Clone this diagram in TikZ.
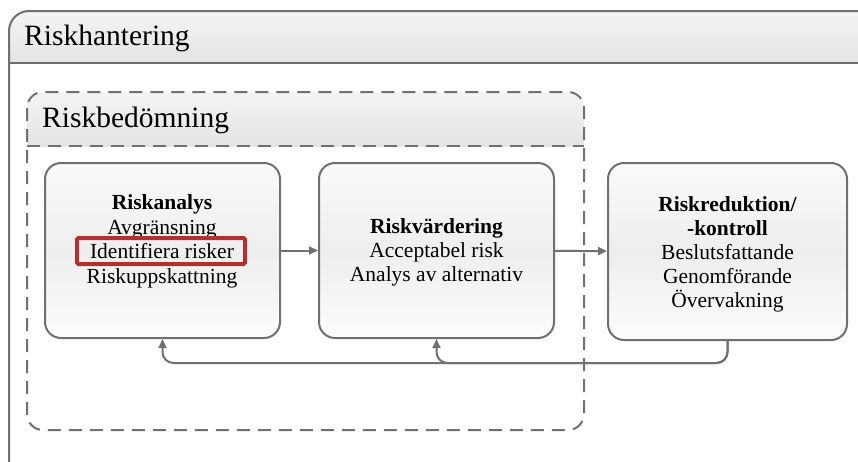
\documentclass[tikz,border=0pt]{standalone}
\usepackage{fontspec}
\setmainfont{Liberation Serif}
\usetikzlibrary{arrows.meta,calc}
\definecolor{edge}{HTML}{707070}
\definecolor{redbox}{HTML}{B3302C}
\definecolor{hdrtop}{HTML}{F4F4F4}
\definecolor{hdrbot}{HTML}{E4E4E4}
\definecolor{boxtop}{HTML}{FAFAFA}
\definecolor{boxmid}{HTML}{EEEEEE}
\definecolor{boxbot}{HTML}{FCFCFC}
\tikzset{
  stepbox/.style={draw=edge, line width=2pt, rounded corners=16pt,
    minimum width=235pt, minimum height=175pt,
    top color=boxtop, bottom color=boxbot, middle color=boxmid},
  boxtext/.style={align=center, anchor=north, font=\fontsize{21.5}{24}\selectfont, inner sep=0pt},
  titletext/.style={anchor=west, font=\fontsize{29.5}{32}\selectfont, inner sep=0pt},
  conn/.style={draw=edge, line width=2pt, -{Triangle[length=9pt,width=8pt]}},
  framebox/.style={draw=edge, line width=2pt},
}
\begin{document}
\begin{tikzpicture}[x=1pt,y=-1pt]
\useasboundingbox (0,0) rectangle (858,461);
% outer frame
\begin{scope}
\clip[rounded corners=20pt] (9,11) rectangle (880,480);
\fill[white] (9,11) rectangle (880,480);
\shade[top color=hdrtop, bottom color=hdrbot] (9,11) rectangle (880,63);
\end{scope}
\draw[framebox, rounded corners=20pt] (9,11) rectangle (880,480);
\draw[framebox] (9,63) -- (880,63);
\node[titletext] (t1) at (24,38) {Riskhantering};
% inner dashed frame
\begin{scope}
\clip[rounded corners=16pt] (27,92) rectangle (584,430);
\shade[top color=hdrtop, bottom color=hdrbot] (27,92) rectangle (584,146);
\end{scope}
\draw[framebox, dash pattern=on 13pt off 8pt, rounded corners=16pt] (27,92) rectangle (584,430);
\draw[framebox, dash pattern=on 13pt off 8pt] (27,146) -- (584,146);
\node[titletext] (t2) at (42,120) {Riskbedömning};
% boxes
\node[stepbox] (a) at (162.5,250.5) {};
\node[stepbox] (b) at (436.5,250.5) {};
\node[stepbox, minimum width=239pt, minimum height=177pt] (c) at (727.5,251.5) {};
\node[boxtext, font=\fontsize{21.5}{24.5}\selectfont] (ta) at (162,194.5) {\textbf{Riskanalys}\\Avgränsning\\Identifiera risker\\Riskuppskattning};
\node[boxtext] (tb) at (436.5,218) {\textbf{Riskvärdering}\\Acceptabel risk\\Analys av alternativ};
\node[boxtext] (tc) at (727.5,196) {\textbf{Riskreduktion/}\\\textbf{-kontroll}\\Beslutsfattande\\Genomförande\\Övervakning};
\node[draw=redbox, line width=4pt, rounded corners=1.5pt, minimum width=168pt, minimum height=26pt, inner sep=0pt] (rb) at (161,251) {};
% connectors
\draw[conn] (a) -- (b);
\draw[conn] (b) -- (c);
\coordinate (fy) at (0,363);
\draw[conn, rounded corners=11pt] (c.south) |- (fy -| a.south) -- (a.south);
\draw[conn, rounded corners=11pt] (c.south) |- (fy -| b.south) -- (b.south);
\end{tikzpicture}
\end{document}
